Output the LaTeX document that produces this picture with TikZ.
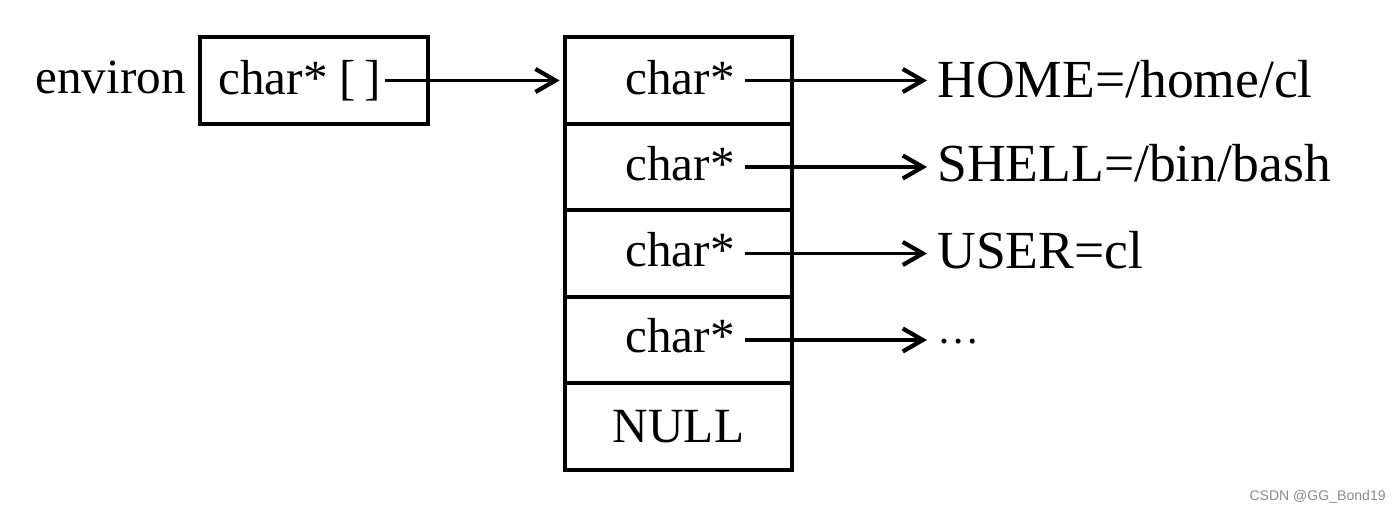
\documentclass[tikz,border=0pt]{standalone}
\usepackage{fontspec}
\setmainfont{Liberation Serif}
\newfontfamily\wmfont{Liberation Sans}
\usetikzlibrary{positioning,arrows.meta}

\begin{document}
\begin{tikzpicture}[x=0.02cm,y=-0.02cm,font=\fontsize{28}{32}\selectfont,
  cell/.style={rectangle,draw,line width=2.1pt,minimum width=4.54cm,minimum height=1.733cm,inner sep=0pt},
  txt/.style={inner sep=0.2cm},
  lbl/.style={anchor=base west,inner sep=0.2cm,font=\fontsize{30.5}{34}\selectfont},
  ar/.style={-{Straight Barb[length=4mm,width=4.6mm,line width=2.4pt]},line width=2.1pt}]
\useasboundingbox (0,0) rectangle (1400,513);
% pointer variable
\node[cell,minimum width=4.56cm,minimum height=1.74cm] (envbox) at (314,80.5) {};
\node[txt,anchor=base east,inner sep=0.28cm] (envname) at (200,94) {environ};
\node[txt,anchor=base west,inner sep=0.08cm] (envptr) at (214,95) {char* [\,]};
% array of pointers
\node[cell] (c1) at (678.5,80.5) {};
\node[cell] (c2) at (678.5,167) {};
\node[cell] (c3) at (678.5,253.5) {};
\node[cell] (c4) at (678.5,340) {};
\node[cell] (c5) at (678.5,426.5) {NULL};
\node[txt,anchor=base east] (p1) at (745,95) {char*};
\node[txt,anchor=base east] (p2) at (745,181) {char*};
\node[txt,anchor=base east] (p3) at (745,267) {char*};
\node[txt,anchor=base east] (p4) at (745,353) {char*};
% strings
\node[lbl] (s1) at (927,98) {HOME=/home/cl};
\node[lbl] (s2) at (927,182) {SHELL=/bin/bash};
\node[lbl] (s3) at (927,269) {USER=cl};
\node[lbl,font=\fontsize{24}{26}\selectfont] (s4) at (927,343) {…};
\draw[ar,shorten >=2pt] (envptr.east |- envbox) -- (c1.west |- envbox);
\draw[ar] (p1.east |- c1) -- (s1.west |- c1);
\draw[ar] (p2.east |- c2) -- (s2.west |- c2);
\draw[ar] (p3.east |- c3) -- (s3.west |- c3);
\draw[ar] (p4.east |- c4) -- (s4.west |- c4);
% watermark
\node[anchor=east,inner sep=0pt,font=\wmfont\fontsize{8}{9}\selectfont,black!45] (wm) at (1386,497) {CSDN @GG\_Bond19};
\end{tikzpicture}
\end{document}
